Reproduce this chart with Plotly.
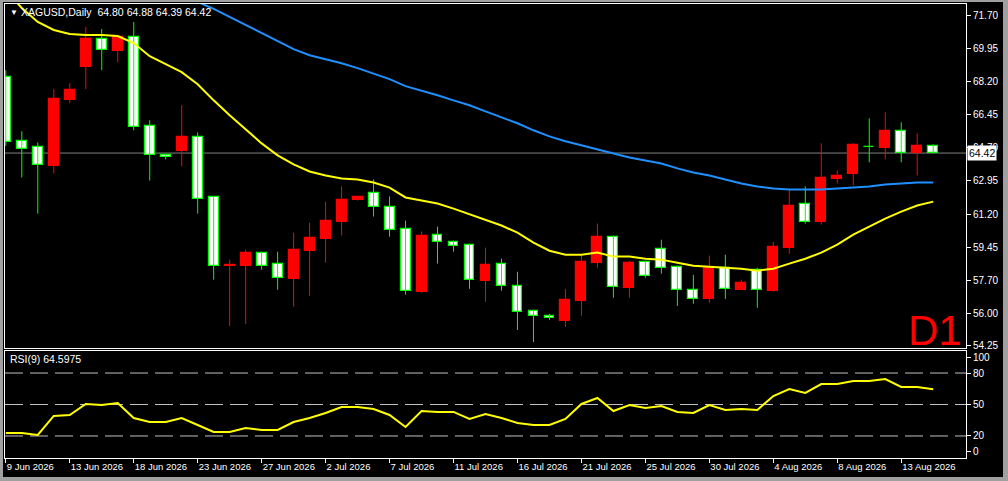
import plotly.graph_objects as go
from plotly.subplots import make_subplots

# daily bars, index 0..58 (MT4 style: red = up, white = down)
opens = [68.42, 65.04, 64.72, 63.72, 67.20, 68.95, 70.43, 69.80, 70.54, 65.83,
         64.30, 64.51, 65.25, 62.08, 58.46, 58.48, 59.17, 58.59, 57.79, 59.27,
         59.91, 60.81, 61.92, 62.34, 61.55, 60.44, 57.10, 60.12, 59.75, 59.59,
         57.69, 58.59, 57.42, 56.10, 55.84, 55.57, 56.63, 58.64, 60.01, 57.32,
         58.69, 59.38, 58.43, 57.21, 56.73, 58.37, 57.21, 58.27, 57.16, 59.43,
         61.71, 60.81, 63.03, 63.34, 64.74, 64.67, 65.57, 64.40, 64.80]
highs = [68.79, 65.57, 64.98, 67.79, 68.10, 71.07, 70.96, 70.60, 71.33, 66.15,
         64.30, 66.94, 65.51, 62.13, 58.80, 59.33, 59.22, 59.22, 60.22, 60.75,
         61.86, 62.66, 62.13, 63.03, 62.13, 60.86, 60.28, 60.54, 59.80, 59.64,
         59.43, 58.85, 58.16, 56.12, 55.94, 57.26, 59.01, 60.70, 60.07, 58.74,
         58.74, 59.85, 58.48, 58.00, 59.01, 59.06, 57.74, 58.37, 59.75, 62.50,
         62.66, 64.93, 63.50, 64.93, 66.25, 66.57, 66.04, 65.46, 64.88]
lows = [64.80, 63.13, 61.23, 63.34, 67.05, 67.79, 68.79, 69.21, 65.62, 62.97,
        64.08, 63.72, 61.23, 57.74, 55.31, 55.41, 58.27, 57.21, 56.31, 56.89,
        58.64, 60.07, 61.92, 61.07, 60.01, 56.95, 57.05, 58.59, 59.22, 57.26,
        56.58, 57.16, 55.09, 54.46, 55.62, 55.25, 55.84, 58.37, 56.79, 56.79,
        57.85, 58.06, 56.36, 56.47, 56.52, 56.73, 57.21, 56.26, 57.10, 59.11,
        60.70, 60.65, 62.82, 62.71, 63.93, 64.08, 63.93, 63.24, 64.39]
closes = [64.98, 64.61, 63.77, 67.26, 67.73, 70.43, 69.85, 70.54, 65.78, 64.30,
          64.19, 65.25, 62.02, 58.48, 58.52, 59.17, 58.48, 57.85, 59.33, 59.96,
          60.86, 61.97, 62.08, 61.55, 60.38, 57.16, 60.07, 59.75, 59.54, 57.74,
          58.53, 57.42, 56.05, 55.84, 55.73, 56.68, 58.69, 60.01, 57.37, 58.64,
          57.95, 58.37, 57.21, 56.73, 58.37, 57.26, 57.58, 57.21, 59.48, 61.65,
          60.81, 63.08, 63.19, 64.83, 64.72, 65.57, 64.40, 64.77, 64.42]

# moving averages
ma_fast = [73.00, 72.07, 71.33, 70.91, 70.70, 70.64, 70.64, 70.59, 70.22, 69.53,
           69.11, 68.69, 68.05, 67.20, 66.41, 65.67, 64.93, 64.30, 63.82, 63.45,
           63.24, 63.08, 63.03, 62.87, 62.60, 62.08, 61.92, 61.76, 61.49, 61.18,
           60.91, 60.60, 60.22, 59.70, 59.27, 59.06, 59.06, 59.17, 58.96, 58.96,
           58.85, 58.80, 58.64, 58.48, 58.43, 58.37, 58.32, 58.22, 58.32, 58.59,
           58.85, 59.17, 59.59, 60.12, 60.54, 60.96, 61.33, 61.65, 61.86]
ma_slow = [76.19, 75.88, 75.56, 75.24, 74.93, 74.61, 74.29, 73.97, 73.66, 73.34,
           73.02, 72.70, 72.39, 72.02, 71.59, 71.17, 70.75, 70.33, 69.90, 69.58,
           69.37, 69.16, 68.90, 68.63, 68.32, 67.95, 67.73, 67.47, 67.20, 66.94,
           66.62, 66.31, 65.99, 65.62, 65.30, 65.04, 64.83, 64.61, 64.40, 64.19,
           64.03, 63.87, 63.61, 63.40, 63.24, 63.03, 62.82, 62.66, 62.55, 62.50,
           62.50, 62.50, 62.55, 62.60, 62.66, 62.76, 62.82, 62.87, 62.87]

rsi = [22.9, 22.9, 21.0, 39.1, 40.0, 50.5, 49.5, 51.4, 37.1, 33.3,
       33.3, 37.1, 30.5, 23.8, 23.8, 27.6, 25.7, 25.7, 33.3, 37.1,
       41.9, 47.6, 47.6, 45.7, 40.0, 28.6, 43.8, 42.9, 42.9, 36.2,
       41.0, 37.1, 32.4, 30.5, 30.5, 36.2, 50.5, 56.2, 43.8, 49.5,
       46.7, 48.6, 42.9, 41.9, 49.5, 44.8, 45.7, 44.8, 58.1, 64.8,
       61.0, 69.5, 69.5, 72.4, 72.4, 74.3, 66.7, 66.7, 64.6]

date_labels = ["9 Jun 2026", "13 Jun 2026", "18 Jun 2026", "23 Jun 2026", "27 Jun 2026",
               "2 Jul 2026", "7 Jul 2026", "11 Jul 2026", "16 Jul 2026", "21 Jul 2026",
               "25 Jul 2026", "30 Jul 2026", "4 Aug 2026", "8 Aug 2026", "13 Aug 2026"]
price_ticks = [54.25, 55.95, 57.70, 59.45, 61.20, 62.95, 64.70, 66.45, 68.20, 69.95, 71.70]
price_text = ["54.25", "56.00", "57.70", "59.45", "61.20", "62.95", "64.70",
              "66.45", "68.20", "69.95", "71.70"]
rsi_levels = [80, 50, 20]

bars = list(range(len(closes)))
last_price = closes[-1]
up = [c >= o for o, c in zip(opens, closes)]

FONT = "Liberation Sans"
UP_COL = "#ff0000"
DOWN_FILL = "#ffffff"
DOWN_EDGE = "#00ff00"

fig = make_subplots(rows=2, cols=1, shared_xaxes=True)

# wicks, one trace per colour, drawn under the bodies
for is_up, col in [(True, UP_COL), (False, DOWN_EDGE)]:
    wx, wy = [], []
    for i in bars:
        if up[i] == is_up:
            wx += [i, i, None]
            wy += [lows[i], highs[i], None]
    fig.add_trace(go.Scatter(x=wx, y=wy, mode="lines", line=dict(color=col, width=1),
                             hoverinfo="skip", showlegend=False), row=1, col=1)

# candle bodies as floating bars
body_base = [min(o, c) for o, c in zip(opens, closes)]
body_len = [max(abs(c - o), 0.02) for o, c in zip(opens, closes)]
fig.add_trace(go.Bar(
    x=bars, y=body_len, base=body_base, width=0.62,
    marker=dict(color=[UP_COL if u else DOWN_FILL for u in up],
                line=dict(color=[UP_COL if u else DOWN_EDGE for u in up], width=1.2)),
    hoverinfo="skip", showlegend=False), row=1, col=1)

fig.add_trace(go.Scatter(x=bars, y=ma_fast, mode="lines",
                         line=dict(color="#ffff00", width=2), showlegend=False), row=1, col=1)
fig.add_trace(go.Scatter(x=bars, y=ma_slow, mode="lines",
                         line=dict(color="#1e90ff", width=2), showlegend=False), row=1, col=1)
fig.add_trace(go.Scatter(x=bars, y=rsi, mode="lines",
                         line=dict(color="#ffff00", width=2), showlegend=False), row=2, col=1)

# pixel helpers for the 1008x481 page (plot area 5..966 x 4..458)
def px(p):
    return (p - 5) / 961.0

def py(p):
    return (458 - p) / 454.0

axis_common = dict(showline=True, mirror=True, linecolor="#ffffff", linewidth=1,
                   showgrid=False, zeroline=False, automargin=False)

fig.update_layout(
    width=1008, height=481,
    margin=dict(l=5, r=42, t=4, b=23),
    paper_bgcolor="#000000", plot_bgcolor="#000000",
    font=dict(family=FONT, size=10, color="#ffffff"),
    showlegend=False, bargap=0,
    xaxis=dict(domain=[0, 1], range=[-0.05, 60.05],
               showticklabels=False, ticks="", **axis_common),
    xaxis2=dict(domain=[0, 1], range=[-0.05, 60.05],
                tickmode="array", tickvals=bars[::4], ticktext=date_labels,
                ticks="outside", ticklen=4, tickcolor="#ffffff", tickangle=0,
                ticklabelposition="outside right",
                tickfont=dict(family=FONT, size=9.5, color="#ffffff"), **axis_common),
    yaxis=dict(domain=[py(348), 1], range=[54.14, 72.28], side="right",
               tickmode="array", tickvals=price_ticks, ticktext=price_text,
               ticks="outside", ticklen=4, tickcolor="#ffffff",
               tickfont=dict(family=FONT, size=10, color="#ffffff"), **axis_common),
    yaxis2=dict(domain=[0, py(351)], range=[-1, 101], side="right",
                tickmode="array", tickvals=[95, 80, 50, 20, 5],
                ticktext=["100", "80", "50", "20", "0"],
                ticks="outside", ticklen=4, tickcolor="#ffffff",
                tickfont=dict(family=FONT, size=10, color="#ffffff"), **axis_common),
)

shapes = []
# last price line
shapes.append(dict(type="line", xref="x domain", yref="y", x0=0, x1=1,
                   y0=last_price, y1=last_price, line=dict(color="#808080", width=1),
                   layer="below"))
# RSI levels
for lv in rsi_levels:
    shapes.append(dict(type="line", xref="x2 domain", yref="y2", x0=0, x1=1, y0=lv, y1=lv,
                       line=dict(color="#c0c0c0", width=1, dash="18px,7px"), layer="below"))
# window frame
gray = "#a0a0a0"
shapes.append(dict(type="rect", xref="paper", yref="paper", x0=px(0), x1=px(3),
                   y0=py(481), y1=py(0), fillcolor=gray, line=dict(width=0), layer="above"))
shapes.append(dict(type="rect", xref="paper", yref="paper", x0=px(0), x1=px(1008),
                   y0=py(2), y1=py(0), fillcolor=gray, line=dict(width=0), layer="above"))
shapes.append(dict(type="rect", xref="paper", yref="paper", x0=px(1003), x1=px(1008),
                   y0=py(481), y1=py(0), fillcolor=gray, line=dict(width=0), layer="above"))
shapes.append(dict(type="rect", xref="paper", yref="paper", x0=px(0), x1=px(1008),
                   y0=py(481), y1=py(477), fillcolor=gray, line=dict(width=0), layer="above"))
fig.update_layout(shapes=shapes)

annotations = [
    dict(text="▼", xref="paper", yref="paper", x=px(8), y=py(12), xanchor="left",
         yanchor="middle", showarrow=False, font=dict(family=FONT, size=8, color="#ffffff")),
    dict(text="XAGUSD,Daily  %.2f %.2f %.2f %.2f" % (opens[-1], highs[-1], lows[-1], closes[-1]),
         xref="paper", yref="paper", x=px(19), y=py(12), xanchor="left", yanchor="middle",
         showarrow=False, font=dict(family=FONT, size=10.5, color="#ffffff")),
    dict(text="RSI(9) %.4f" % 64.5975, xref="paper", yref="paper", x=px(8), y=py(359),
         xanchor="left", yanchor="middle", showarrow=False,
         font=dict(family=FONT, size=10.5, color="#ffffff")),
    dict(text="D1", xref="paper", yref="paper", x=px(964), y=py(356), xanchor="right",
         yanchor="bottom", showarrow=False, font=dict(family=FONT, size=42, color="#ff0000")),
    dict(text="%.2f" % last_price, xref="paper", yref="y", x=px(967), y=last_price,
         xanchor="left", yanchor="middle", showarrow=False, bgcolor="#ffffff",
         borderpad=1, font=dict(family=FONT, size=10.5, color="#000000")),
]
fig.update_layout(annotations=annotations)

# drop the browser's default page margin so the figure sits at the window's corner
fig.write_html("out.html", config={"displayModeBar": False},
               post_script="document.body.style.margin='0px';")
